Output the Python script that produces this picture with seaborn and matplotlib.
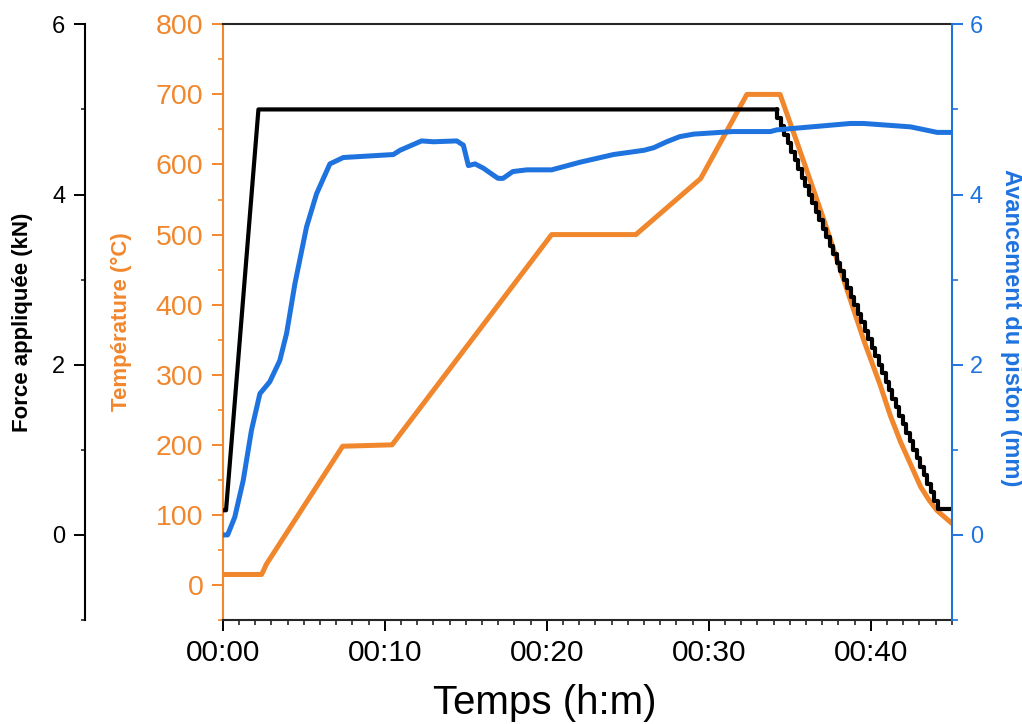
import numpy as np
import pandas as pd
import seaborn as sns
import matplotlib.pyplot as plt
from matplotlib.ticker import MultipleLocator

# --- data (time in minutes) ---
temp_time = [0.0, 2.4, 2.7, 7.4, 10.45, 20.3, 25.5, 29.5, 32.35, 34.4,
             35.5, 37.0, 38.75, 39.6, 40.6, 41.2, 41.84, 42.5, 43.08, 43.6, 44.1, 45.0]
temp_value = [15, 15, 30, 198, 200, 500, 500, 580, 700, 700,
              628, 528, 406, 347, 284, 242, 204, 170, 140, 121, 106, 88]

piston_time = [0.0, 0.3, 0.74, 1.26, 1.77, 2.29, 2.9, 3.52, 3.94, 4.45, 5.17,
               5.79, 6.61, 7.44, 10.53, 10.94, 12.27, 13.0, 14.44, 14.85, 15.16,
               15.57, 16.08, 16.91, 17.0, 17.3, 17.9, 18.76, 20.3, 22.06, 24.12,
               26.0, 26.6, 27.4, 28.2, 29.07, 31.5, 33.8, 34.2, 38.75,
               39.56, 42.46, 44.1, 45.0]
piston_value = [0.0, 0.0, 0.21, 0.64, 1.23, 1.66, 1.80, 2.05, 2.37, 2.95, 3.62,
                4.01, 4.36, 4.435, 4.47, 4.52, 4.63, 4.62, 4.63, 4.58, 4.34,
                4.36, 4.31, 4.20, 4.19, 4.19, 4.27, 4.29, 4.29, 4.38, 4.47,
                4.52, 4.55, 4.62, 4.68, 4.71, 4.74, 4.74, 4.76, 4.835,
                4.835, 4.795, 4.73, 4.73]

# force: ramp up then plateau
force_time = [0.0, 0.2, 2.2, 34.24]
force_value = [0.29, 0.29, 5.0, 5.0]
# force: stepwise release (0.1 kN steps)
step_time = [34.24, 34.24, 34.46, 34.67, 34.89, 35.10, 35.32, 35.53, 35.75, 35.96, 36.18,
             36.39, 36.61, 36.82, 37.04, 37.25, 37.47, 37.68, 37.90, 38.11, 38.33,
             38.54, 38.76, 38.97, 39.19, 39.40, 39.62, 39.83, 40.05, 40.26, 40.48,
             40.69, 40.91, 41.12, 41.34, 41.55, 41.77, 41.98, 42.20, 42.41, 42.63,
             42.84, 43.06, 43.27, 43.49, 43.70, 43.92, 44.13, 45.0]
step_value = [5.0, 4.9, 4.8, 4.7, 4.6, 4.5, 4.4, 4.3, 4.2, 4.1, 4.0,
              3.9, 3.8, 3.7, 3.6, 3.5, 3.4, 3.3, 3.2, 3.1, 3.0,
              2.9, 2.8, 2.7, 2.6, 2.5, 2.4, 2.3, 2.2, 2.1, 2.0,
              1.9, 1.8, 1.7, 1.6, 1.5, 1.4, 1.3, 1.2, 1.1, 1.0,
              0.9, 0.8, 0.7, 0.6, 0.5, 0.4, 0.3, 0.3]

x_ticks = [0, 10, 20, 30, 40]
x_tick_labels = ["00:00", "00:10", "00:20", "00:30", "00:40"]

orange = "#F1872D"
blue = "#1F73DE"

sns.set_style("ticks")
plt.rcParams['font.family'] = ['Liberation Sans', 'DejaVu Sans']

fig = plt.figure(figsize=(10.22, 7.24), dpi=100)
ax = fig.add_axes([0.218, 0.1436, 0.7133, 0.8228])
ax_f = ax.twinx()
ax_b = ax.twinx()

# temperature (bottom layer)
sns.lineplot(x=temp_time, y=temp_value, ax=ax, color=orange, linewidth=3.6,
             estimator=None, sort=False)
# force
sns.lineplot(x=force_time, y=force_value, ax=ax_f, color="black", linewidth=3,
             estimator=None, sort=False)
sns.lineplot(x=step_time, y=step_value, ax=ax_f, color="black", linewidth=3,
             estimator=None, sort=False, drawstyle="steps-post")
# piston travel (top layer)
sns.lineplot(x=piston_time, y=piston_value, ax=ax_b, color=blue, linewidth=3.6,
             estimator=None, sort=False)

ax.set_xlim(0, 45)
ax.set_ylim(-50, 800)
ax_f.set_ylim(-1, 6)
ax_b.set_ylim(-1, 6)

# x axis
ax.set_xticks(x_ticks)
ax.set_xticklabels(x_tick_labels)
ax.xaxis.set_minor_locator(MultipleLocator(1))
ax.tick_params(axis="x", which="major", direction="out", length=8, width=1.4,
               labelsize=21.5, pad=6, colors="black")
ax.tick_params(axis="x", which="minor", direction="out", length=3.5, width=1.2)

# temperature axis
ax.set_yticks(range(0, 801, 100))
ax.yaxis.set_minor_locator(MultipleLocator(50))
ax.tick_params(axis="y", which="major", direction="out", length=8, width=1.4,
               labelsize=20.5, pad=6, colors=orange)
ax.tick_params(axis="y", which="minor", direction="out", length=3.6, width=1.2,
               colors=orange)
ax.spines["left"].set_color(orange)
ax.spines["left"].set_linewidth(1.5)
ax.spines["right"].set_visible(False)
ax.spines["top"].set_linewidth(1.5)
ax.spines["bottom"].set_linewidth(1.5)
ax.set_xlabel("")
ax.set_ylabel("")

# force axis, offset to the left
ax_f.spines["left"].set_position(("axes", -0.1893))
ax_f.spines["left"].set_visible(True)
ax_f.spines["left"].set_linewidth(1.5)
ax_f.spines["left"].set_color("black")
for s in ["right", "top", "bottom"]:
    ax_f.spines[s].set_visible(False)
ax_f.yaxis.set_ticks_position("left")
ax_f.set_yticks([0, 2, 4, 6])
ax_f.yaxis.set_minor_locator(MultipleLocator(1))
ax_f.tick_params(axis="y", which="major", direction="out", length=8, width=1.4,
                 labelsize=17, pad=6, colors="black")
ax_f.tick_params(axis="y", which="minor", direction="out", length=3, width=1.2)
ax_f.set_ylabel("")

# piston axis on the right
for s in ["left", "top", "bottom"]:
    ax_b.spines[s].set_visible(False)
ax_b.spines["right"].set_color(blue)
ax_b.spines["right"].set_linewidth(1.5)
ax_b.set_yticks([0, 2, 4, 6])
ax_b.yaxis.set_minor_locator(MultipleLocator(1))
ax_b.tick_params(axis="y", which="major", direction="out", length=8, width=1.4,
                 labelsize=17, pad=5, colors=blue)
ax_b.tick_params(axis="y", which="minor", direction="out", length=4, width=1.2,
                 colors=blue)
ax_b.set_ylabel("")

# axis titles
fig.text(23 / 1022, 1 - 322 / 724, "Force appliquée (kN)", rotation=90,
         ha="center", va="center", fontsize=16, fontweight="bold", color="black")
fig.text(121 / 1022, 1 - 322 / 724, "Température (°C)", rotation=90,
         ha="center", va="center", fontsize=16, fontweight="bold", color=orange)
fig.text(1011 / 1022, 1 - 328 / 724, "Avancement du piston (mm)", rotation=270,
         ha="center", va="center", fontsize=17, fontweight="bold", color=blue)
fig.text(545 / 1022, 1 - 703 / 724, "Temps (h:m)", ha="center", va="center",
         fontsize=29, color="black")

fig.savefig("out.png", dpi=100)
